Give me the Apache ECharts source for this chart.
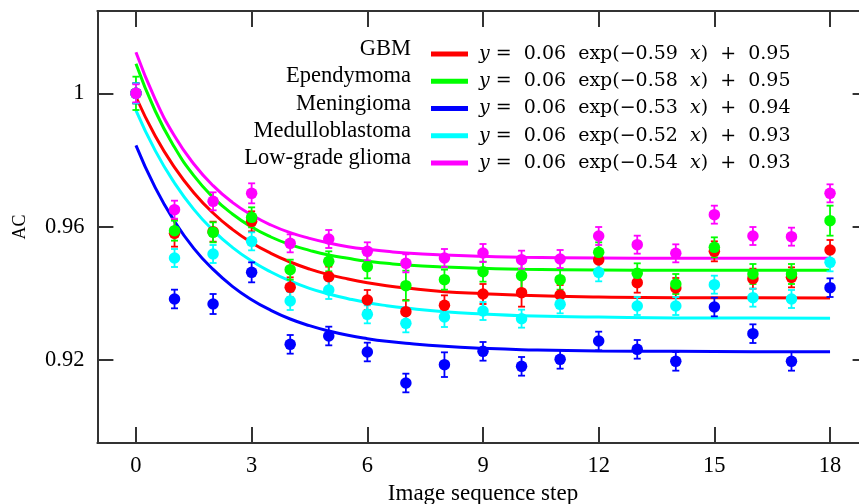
<!DOCTYPE html>
<html>
<head>
<meta charset="utf-8">
<script src="https://cdn.jsdelivr.net/npm/echarts@6/dist/echarts.min.js"></script>
<style>
html,body{margin:0;padding:0;background:#fff;}
#chart{width:859px;height:504px;}
</style>
</head>
<body>
<div id="chart"></div>
<script>
// ---- data ----
const steps = [0,1,2,3,4,5,6,7,8,9,10,11,12,13,14,15,16,17,18];
const groupNames = ['GBM','Ependymoma','Meningioma','Medulloblastoma','Low-grade glioma'];
const groupColors = ['#ff0000','#00ff00','#0000ff','#00ffff','#ff00ff'];

const gbmAC      = [1.000,0.9580,0.9585,0.9616,0.9418,0.9450,0.9380,0.9345,0.9364,0.9398,0.9402,0.9395,0.9500,0.9432,0.9416,0.9526,0.9444,0.9448,0.9530];
const ependAC    = [1.000,0.9588,0.9583,0.9628,0.9471,0.9496,0.9480,0.9423,0.9441,0.9465,0.9453,0.9441,0.9523,0.9460,0.9428,0.9538,0.9458,0.9458,0.9618];
const meningAC   = [1.000,0.9383,0.9368,0.9463,0.9247,0.9272,0.9224,0.9131,0.9186,0.9226,0.9181,0.9202,0.9257,0.9232,0.9196,0.9359,0.9279,0.9196,0.9417];
const medulloAC  = [1.000,0.9506,0.9518,0.9556,0.9377,0.9410,0.9337,0.9310,0.9329,0.9347,0.9324,0.9367,0.9463,0.9362,0.9362,0.9426,0.9387,0.9383,0.9493];
const lowgradeAC = [1.000,0.9651,0.9676,0.9700,0.9550,0.9563,0.9526,0.9490,0.9506,0.9521,0.9501,0.9503,0.9572,0.9546,0.9520,0.9636,0.9572,0.9570,0.9700];

const gbmErr      = [0.0030,0.0040,0.0030,0.0030,0.0030,0.0030,0.0030,0.0035,0.0030,0.0030,0.0042,0.0030,0.0030,0.0030,0.0030,0.0030,0.0030,0.0030,0.0030];
const ependErr    = [0.0050,0.0030,0.0030,0.0030,0.0030,0.0030,0.0035,0.0045,0.0030,0.0030,0.0050,0.0030,0.0030,0.0030,0.0030,0.0030,0.0030,0.0030,0.0045];
const meningErr   = [0.0030,0.0028,0.0030,0.0030,0.0028,0.0028,0.0028,0.0028,0.0037,0.0028,0.0028,0.0028,0.0028,0.0028,0.0028,0.0028,0.0028,0.0028,0.0028];
const medulloErr  = [0.0030,0.0027,0.0027,0.0027,0.0027,0.0027,0.0027,0.0027,0.0030,0.0027,0.0027,0.0027,0.0027,0.0027,0.0027,0.0027,0.0027,0.0027,0.0027];
const lowgradeErr = [0.0027,0.0027,0.0027,0.0030,0.0027,0.0027,0.0027,0.0027,0.0027,0.0027,0.0027,0.0027,0.0027,0.0027,0.0027,0.0027,0.0027,0.0027,0.0027];

// fitted curves, values
const fitX        = [0,0.5,1,1.5,2,2.5,3,3.5,4,4.5,5,5.5,6,6.5,7,8,9,10,12,14,16,18];
const gbmFit      = [0.9989,0.9872,0.9778,0.9702,0.9641,0.9592,0.9552,0.9520,0.9494,0.9473,0.9456,0.9443,0.9432,0.9423,0.9416,0.9405,0.9399,0.9394,0.9389,0.9387,0.9387,0.9386];
const ependFit    = [1.0089,0.9947,0.9838,0.9753,0.9688,0.9638,0.9599,0.9569,0.9546,0.9529,0.9515,0.9505,0.9496,0.9490,0.9485,0.9479,0.9475,0.9472,0.9470,0.9469,0.9469,0.9469];
const meningFit   = [0.9844,0.9717,0.9616,0.9535,0.9472,0.9421,0.9381,0.9349,0.9323,0.9303,0.9287,0.9274,0.9264,0.9256,0.9250,0.9241,0.9235,0.9231,0.9227,0.9226,0.9225,0.9225];
const medulloFit  = [0.9949,0.9828,0.9731,0.9652,0.9589,0.9538,0.9497,0.9464,0.9437,0.9415,0.9398,0.9384,0.9372,0.9363,0.9356,0.9345,0.9338,0.9333,0.9329,0.9326,0.9326,0.9325];
const lowgradeFit = [1.0123,0.9982,0.9872,0.9788,0.9723,0.9673,0.9635,0.9605,0.9582,0.9565,0.9551,0.9540,0.9532,0.9526,0.9521,0.9515,0.9511,0.9508,0.9506,0.9505,0.9505,0.9505];

// legend equation coefficients
const eqA = ['0.06','0.06','0.06','0.06','0.06'];
const eqK = ['0.59','0.58','0.53','0.52','0.54'];
const eqC = ['0.95','0.95','0.94','0.93','0.93'];

const xTickValues = [0,3,6,9,12,15,18];
const xTickLabels = ['0','3','6','9','12','15','18'];
const yTickValues = [0.92,0.96,1];
const yTickLabels = ['0.92','0.96','1'];

// ---- build ----
const ACs  = [gbmAC, ependAC, meningAC, medulloAC, lowgradeAC];
const Errs = [gbmErr, ependErr, meningErr, medulloErr, lowgradeErr];
const Fits = [gbmFit, ependFit, meningFit, medulloFit, lowgradeFit];

const SERIF = '"Liberation Serif","Times New Roman",serif';
const MATH = '"DejaVu Serif",serif';
const axisColor = '#333';

const series = [];
groupNames.forEach((name, g) => {
  const color = groupColors[g];
  series.push({
    name: name, type: 'line', xAxisIndex: 0, yAxisIndex: 0,
    data: fitX.map((x, i) => [x, Fits[g][i]]),
    smooth: 0.5, showSymbol: false, symbol: 'none',
    lineStyle: { color: color, width: 3 }, itemStyle: { color: color },
    silent: true, z: 2, animation: false
  });
});
groupNames.forEach((name, g) => {
  const color = groupColors[g];
  series.push({
    name: name + ' err', type: 'custom', xAxisIndex: 0, yAxisIndex: 0,
    data: steps.map((s, i) => [s, ACs[g][i] - Errs[g][i], ACs[g][i] + Errs[g][i]]),
    renderItem: function (params, api) {
      const x = api.value(0);
      const lo = api.coord([x, api.value(1)]);
      const hi = api.coord([x, api.value(2)]);
      const cw = 3.5;
      const st = { stroke: color, lineWidth: 1.8 };
      return { type: 'group', children: [
        { type: 'line', shape: { x1: lo[0], y1: lo[1], x2: hi[0], y2: hi[1] }, style: st },
        { type: 'line', shape: { x1: lo[0]-cw, y1: lo[1], x2: lo[0]+cw, y2: lo[1] }, style: st },
        { type: 'line', shape: { x1: hi[0]-cw, y1: hi[1], x2: hi[0]+cw, y2: hi[1] }, style: st }
      ]};
    },
    z: 3, silent: true, animation: false
  });
  series.push({
    name: name + ' pts', type: 'scatter', xAxisIndex: 0, yAxisIndex: 0,
    data: steps.map((s, i) => [s, ACs[g][i]]),
    symbol: 'circle', symbolSize: 11.5,
    itemStyle: { color: color, opacity: 1 },
    z: 4, silent: true, animation: false
  });
});

const chart = echarts.init(document.getElementById('chart'), null, { renderer: 'canvas' });

const xAxisBase = {
  type: 'value', min: -1, max: 19,
  axisLine: { show: true, onZero: false, lineStyle: { color: axisColor, width: 2 } },
  axisTick: { show: true, inside: true, length: 16, customValues: xTickValues, lineStyle: { color: axisColor, width: 2 } },
  splitLine: { show: false }
};
const yAxisBase = {
  type: 'value', min: 0.8951, max: 1.0247,
  axisLine: { show: true, onZero: false, lineStyle: { color: axisColor, width: 2 } },
  axisTick: { show: true, inside: true, length: 16, customValues: yTickValues, lineStyle: { color: axisColor, width: 2 } },
  splitLine: { show: false }
};

const option = {
  backgroundColor: '#ffffff',
  animation: false,
  grid: { left: 97.4, top: 11, width: 771.2, height: 432, containLabel: false, outerBoundsMode: 'none' },
  xAxis: [
    Object.assign({}, xAxisBase, {
      position: 'bottom',
      axisLabel: { show: true, customValues: xTickValues, margin: 12, color: '#000', fontSize: 22.5, fontFamily: SERIF,
        formatter: v => xTickLabels[xTickValues.indexOf(v)] },
      name: 'Image sequence step', nameLocation: 'middle', nameGap: 36,
      nameTextStyle: { color: '#000', fontSize: 23, fontFamily: SERIF }
    }),
    Object.assign({}, xAxisBase, { position: 'top', axisLabel: { show: false } })
  ],
  yAxis: [
    Object.assign({}, yAxisBase, {
      position: 'left',
      axisLabel: { show: true, customValues: yTickValues, margin: 13, color: '#000', fontSize: 22.5, fontFamily: SERIF,
        formatter: v => yTickLabels[yTickValues.findIndex(t => Math.abs(t - v) < 1e-9)] },
      name: 'AC', nameLocation: 'middle', nameGap: 68, nameRotate: 90,
      nameTextStyle: { color: '#000', fontSize: 18, fontFamily: SERIF }
    }),
    Object.assign({}, yAxisBase, { position: 'right', axisLabel: { show: false } })
  ],
  legend: {
    data: groupNames,
    orient: 'vertical', left: 426, top: 38,
    icon: 'rect', itemWidth: 37, itemHeight: 5, itemGap: 5.25,
    selectedMode: false,
    formatter: function (name) {
      const g = groupNames.indexOf(name);
      return '{f|y}{n| =  ' + eqA[g] + '  exp(\u2212' + eqK[g] + '  }{i|x}{n|)  +  ' + eqC[g] + '}';
    },
    textStyle: {
      color: '#000', fontSize: 19, fontFamily: MATH, lineHeight: 22,
      rich: {
        f: { fontStyle: 'italic', fontSize: 19, fontFamily: MATH, color: '#000', lineHeight: 22, padding: [0, 0, 0, 6] },
        i: { fontStyle: 'italic', fontSize: 19, fontFamily: MATH, color: '#000', lineHeight: 22 },
        n: { fontSize: 19, fontFamily: MATH, color: '#000', lineHeight: 22 }
      }
    }
  },
  graphic: groupNames.map((name, g) => ({
    type: 'text', x: 411, y: 49.3 + g * 27.25,
    style: { text: name, align: 'right', verticalAlign: 'middle', fontSize: 22.5, fontFamily: SERIF, fill: '#000' },
    silent: true
  })),
  series: series
};
chart.setOption(option);
</script>
</body>
</html>
